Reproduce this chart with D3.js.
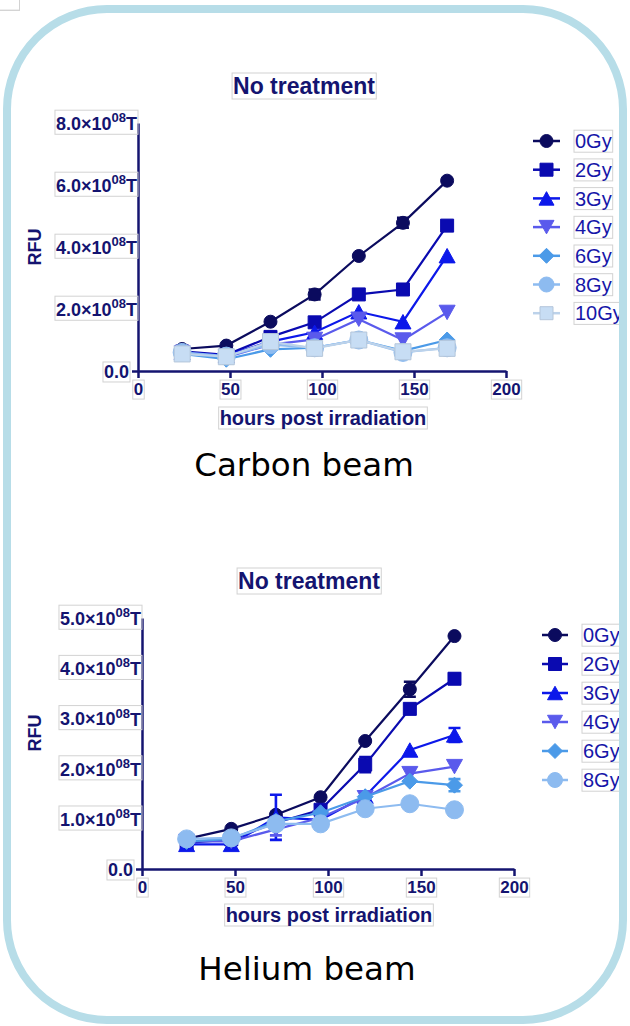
<!DOCTYPE html>
<html>
<head>
<meta charset="utf-8">
<script src="https://cdn.jsdelivr.net/npm/d3@7"></script>
<style>
  body { margin: 0; background: #ffffff; }
  svg { display: block; }
</style>
</head>
<body>
<svg id="fig" width="630" height="1026"></svg>
<script>
// ---- data (RFU in units of 1e8) ----
const hours = [24, 48, 72, 96, 120, 144, 168];
const hourTicks = [0, 50, 100, 150, 200];

const carbonDoses = ["0Gy", "2Gy", "3Gy", "4Gy", "6Gy", "8Gy", "10Gy"];
const carbon0Gy  = [0.71, 0.82, 1.59, 2.47, 3.71, 4.78, 6.14];
const carbon2Gy  = [0.63, 0.52, 1.10, 1.57, 2.47, 2.63, 4.69];
const carbon3Gy  = [0.60, 0.50, 0.95, 1.25, 1.91, 1.59, 3.72];
const carbon4Gy  = [0.58, 0.45, 0.85, 1.02, 1.67, 1.00, 1.89];
const carbon6Gy  = [0.55, 0.38, 0.70, 0.75, 1.00, 0.65, 1.00];
const carbon8Gy  = [0.60, 0.48, 0.85, 0.75, 1.00, 0.60, 0.75];
const carbon10Gy = [0.55, 0.46, 0.95, 0.73, 1.00, 0.62, 0.73];
const carbonTicks = [0, 2, 4, 6, 8];
// error bars: [dose, hour, half-range]
const carbonErrors = [["0Gy", 96, 0.16], ["0Gy", 144, 0.16]];

const heliumDoses = ["0Gy", "2Gy", "3Gy", "4Gy", "6Gy", "8Gy"];
const helium0Gy = [0.60, 0.80, 1.08, 1.43, 2.55, 3.58, 4.64];
const helium2Gy = [0.52, 0.59, 0.92, 1.18, 2.08, 3.19, 3.79];
const helium3Gy = [0.49, 0.49, 1.03, 0.98, 1.45, 2.37, 2.67];
const helium4Gy = [0.55, 0.55, 0.79, 1.02, 1.42, 1.90, 2.04];
const helium6Gy = [0.55, 0.60, 0.95, 1.12, 1.44, 1.75, 1.67];
const helium8Gy = [0.60, 0.62, 0.90, 0.90, 1.20, 1.30, 1.18];
const heliumTicks = [0, 1, 2, 3, 4, 5];
const heliumErrors = [
  ["0Gy", 144, 0.15], ["2Gy", 120, 0.15], ["2Gy", 168, 0.10],
  ["3Gy", 72, 0.45], ["3Gy", 96, 0.10], ["3Gy", 168, 0.14],
  ["4Gy", 72, 0.12], ["6Gy", 168, 0.12], ["2Gy", 96, 0.06]
];

// ---- styling ----
const navy = "#141470";
const doseStyle = {
  "0Gy":  { color: "#0b0b5e", fill: "#0b0b5e", stroke: "#0b0b5e", shape: "circle",   r: 6.5 },
  "2Gy":  { color: "#0a0ab0", fill: "#0a0ab0", stroke: "#0a0ab0", shape: "square",   r: 6.5 },
  "3Gy":  { color: "#0c18ea", fill: "#0c18ea", stroke: "#0c18ea", shape: "triUp",    r: 8 },
  "4Gy":  { color: "#5a5aec", fill: "#5a5aec", stroke: "#5a5aec", shape: "triDown",  r: 8 },
  "6Gy":  { color: "#4b9ae8", fill: "#4b9ae8", stroke: "#4b9ae8", shape: "diamond",  r: 8 },
  "8Gy":  { color: "#8dbbf0", fill: "#8dbbf0", stroke: "#8dbbf0", shape: "circle",   r: 9 },
  "10Gy": { color: "#bcd2ea", fill: "#c7ddf4", stroke: "#b4c6da", shape: "square",   r: 8 }
};

function markerPath(shape, r) {
  switch (shape) {
    case "circle":
      return `M${r},0A${r},${r} 0 1,1 ${-r},0A${r},${r} 0 1,1 ${r},0Z`;
    case "square":
      return `M${-r},${-r}H${r}V${r}H${-r}Z`;
    case "triUp": {
      const h = r * 0.9;
      return `M0,${-h}L${r},${h}L${-r},${h}Z`;
    }
    case "triDown": {
      const h = r * 0.9;
      return `M0,${h}L${r},${-h}L${-r},${-h}Z`;
    }
    case "diamond":
      return `M0,${-r}L${r},0L0,${r}L${-r},0Z`;
  }
}

const svg = d3.select("#fig");

// thin grey outline around a text element
function boxed(sel) {
  sel.each(function () {
    const b = this.getBBox();
    d3.select(this.parentNode).insert("rect", () => this)
      .attr("x", b.x - 1).attr("y", b.y)
      .attr("width", b.width + 2).attr("height", b.height)
      .attr("fill", "none").attr("stroke", "#d2d2d2").attr("stroke-width", 1);
  });
  return sel;
}

function drawPanel(cfg) {
  const g = svg.append("g");
  const x = d3.scaleLinear().domain([0, 200]).range(cfg.xRange);
  const y = d3.scaleLinear().domain([0, cfg.yMax]).range(cfg.yRange);

  // title
  boxed(g.append("text")
    .attr("x", cfg.titlePos[0]).attr("y", cfg.titlePos[1])
    .attr("text-anchor", "middle")
    .attr("font-family", "Liberation Sans, Arial, sans-serif")
    .attr("font-weight", "bold").attr("font-size", 23)
    .attr("fill", navy).text("No treatment"));

  // x axis
  const xAxis = g.append("g")
    .attr("transform", `translate(0,${cfg.yRange[0]})`)
    .call(d3.axisBottom(x).tickValues(hourTicks).tickSize(7).tickSizeOuter(0).tickPadding(5));
  xAxis.select(".domain").attr("stroke", navy).attr("stroke-width", 2.5);
  xAxis.selectAll(".tick line").attr("stroke", navy).attr("stroke-width", 2.5);
  xAxis.selectAll(".tick text")
    .attr("fill", navy).attr("font-size", 17).attr("font-weight", "bold")
    .attr("font-family", "Liberation Sans, Arial, sans-serif");
  boxed(xAxis.selectAll(".tick text"));

  // y axis: the trailing "T" of each label sits against the axis line
  const yAxis = g.append("g")
    .attr("transform", `translate(${cfg.xRange[0]},0)`)
    .call(d3.axisLeft(y).tickValues(cfg.yTicks).tickSize(6).tickSizeOuter(0).tickPadding(2)
      .tickFormat(() => ""));
  yAxis.select(".domain").attr("stroke", navy).attr("stroke-width", 2.5);
  yAxis.selectAll(".tick line")
    .attr("stroke", navy).attr("stroke-width", 2.5)
    .attr("display", d => d === 0 ? null : "none");
  yAxis.selectAll(".tick text").each(function (d) {
    const t = d3.select(this)
      .attr("fill", navy).attr("font-size", 18).attr("font-weight", "bold")
      .attr("font-family", "Liberation Sans, Arial, sans-serif")
      .attr("x", d === 0 ? -9 : -1).attr("dy", "0.36em");
    if (d === 0) {
      t.text("0.0");
    } else {
      t.append("tspan").text(d.toFixed(1) + "\u00d710");
      t.append("tspan").attr("font-size", 13).attr("dy", "-0.6em").text("08");
      t.append("tspan").attr("dy", "0.45em").text("T");
    }
  });
  boxed(yAxis.selectAll(".tick text"));

  // axis titles
  boxed(g.append("text")
    .attr("x", cfg.xLabelPos[0]).attr("y", cfg.xLabelPos[1])
    .attr("text-anchor", "middle")
    .attr("font-family", "Liberation Sans, Arial, sans-serif")
    .attr("font-weight", "bold").attr("font-size", 20)
    .attr("fill", navy).text("hours post irradiation"));
  boxed(g.append("text")
    .attr("transform", `translate(${cfg.yLabelPos[0]},${cfg.yLabelPos[1]}) rotate(-90)`)
    .attr("text-anchor", "middle").attr("dy", "0.35em")
    .attr("font-family", "Liberation Sans, Arial, sans-serif")
    .attr("font-weight", "bold").attr("font-size", 18)
    .attr("fill", navy).text("RFU"));

  // series: lines, error bars, markers
  const line = d3.line().x(d => x(d[0])).y(d => y(d[1]));
  cfg.doses.forEach((dose, i) => {
    const st = doseStyle[dose];
    const pts = hours.map((h, j) => [h, cfg.values[i][j]]);
    const sg = g.append("g");
    sg.append("path").datum(pts).attr("d", line)
      .attr("fill", "none").attr("stroke", st.color).attr("stroke-width", 2.2);
    cfg.errors.filter(e => e[0] === dose).forEach(e => {
      const v = pts.find(p => p[0] === e[1])[1];
      const cx = x(e[1]), y1 = y(v + e[2]), y2 = y(v - e[2]);
      sg.append("path")
        .attr("d", `M${cx},${y1}V${y2}M${cx - 6},${y1}H${cx + 6}M${cx - 6},${y2}H${cx + 6}`)
        .attr("stroke", st.color).attr("stroke-width", 2.6).attr("fill", "none");
    });
    sg.selectAll("path.mk").data(pts).join("path").attr("class", "mk")
      .attr("transform", d => `translate(${x(d[0])},${y(d[1])})`)
      .attr("d", markerPath(st.shape, st.r))
      .attr("fill", st.fill).attr("stroke", st.stroke).attr("stroke-width", 1)
      .attr("stroke-linejoin", "round");
  });

  // legend
  const lg = g.append("g");
  cfg.doses.forEach((dose, i) => {
    const st = doseStyle[dose];
    const yy = cfg.legend.y0 + i * cfg.legend.step;
    const [l0, l1] = cfg.legend.line;
    lg.append("line").attr("x1", l0).attr("x2", l1).attr("y1", yy).attr("y2", yy)
      .attr("stroke", st.color).attr("stroke-width", 2.5);
    lg.append("path").attr("transform", `translate(${(l0 + l1) / 2},${yy})`)
      .attr("d", markerPath(st.shape, st.shape === "square" ? Math.min(st.r, 6.5) : Math.min(st.r, 7.5)))
      .attr("fill", st.fill).attr("stroke", st.stroke).attr("stroke-width", 1);
    boxed(lg.append("text").attr("x", cfg.legend.textX).attr("y", yy).attr("dy", "0.36em")
      .attr("font-family", "Liberation Sans, Arial, sans-serif").attr("font-size", 20)
      .attr("fill", "#1616a8").text(dose));
  });

  // caption under the panel
  g.append("text")
    .attr("x", cfg.caption.x).attr("y", cfg.caption.y)
    .attr("text-anchor", "middle")
    .attr("font-family", "DejaVu Sans, Verdana, sans-serif").attr("font-size", 32.5)
    .attr("fill", "#000").text(cfg.caption.text);
}

drawPanel({
  doses: carbonDoses,
  values: [carbon0Gy, carbon2Gy, carbon3Gy, carbon4Gy, carbon6Gy, carbon8Gy, carbon10Gy],
  errors: carbonErrors,
  yMax: 8, yTicks: carbonTicks,
  xRange: [138, 506], yRange: [371, 123],
  titlePos: [304, 94], xLabelPos: [323, 425], yLabelPos: [35, 247],
  legend: { line: [533, 560], textX: 575, y0: 141, step: 28.7 },
  caption: { text: "Carbon beam", x: 304, y: 476 }
});

drawPanel({
  doses: heliumDoses,
  values: [helium0Gy, helium2Gy, helium3Gy, helium4Gy, helium6Gy, helium8Gy],
  errors: heliumErrors,
  yMax: 5, yTicks: heliumTicks,
  xRange: [142, 514], yRange: [869, 618],
  titlePos: [309, 589], xLabelPos: [329, 922], yLabelPos: [35, 733],
  legend: { line: [542, 568], textX: 583, y0: 635, step: 29 },
  caption: { text: "Helium beam", x: 307, y: 980 }
});

// rounded frame around both panels
svg.append("rect")
  .attr("x", 7).attr("y", 9).attr("width", 616).attr("height", 1011)
  .attr("rx", 100).attr("ry", 100)
  .attr("fill", "none").attr("stroke", "#b7dde8").attr("stroke-width", 8);
</script>
</body>
</html>
